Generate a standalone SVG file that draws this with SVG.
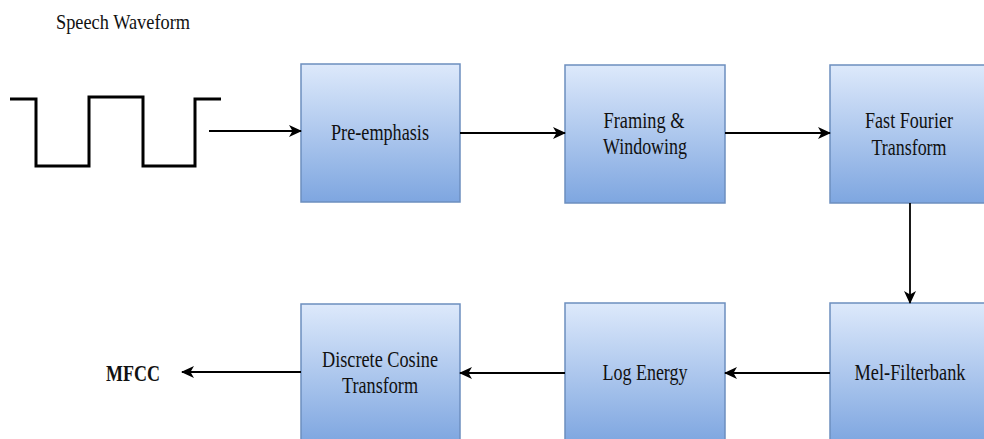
<svg xmlns="http://www.w3.org/2000/svg" width="984" height="439" viewBox="0 0 984 439">
  <defs>
    <linearGradient id="boxFill" x1="0" y1="0" x2="0" y2="1">
      <stop offset="0" stop-color="#dde9fb"/>
      <stop offset="1" stop-color="#7ea6e0"/>
    </linearGradient>
    <marker id="arrow" markerUnits="userSpaceOnUse" markerWidth="13" markerHeight="12" refX="12" refY="6" orient="auto">
      <path d="M0,0 L13,6 L0,12 L3.5,6 Z" fill="#000"/>
    </marker>
  </defs>
  <style>
    .box { fill: url(#boxFill); stroke: #6c8ebf; stroke-width: 1.5; }
    .label { font-family: "Liberation Serif", "Times New Roman", serif; font-size: 24px; fill: #111; text-anchor: middle; }
    .edge { stroke: #000; stroke-width: 1.8; fill: none; marker-end: url(#arrow); }
    .wave { stroke: #000; stroke-width: 3; fill: none; stroke-linejoin: miter; }
  </style>

  <!-- input signal -->
  <g id="speech-waveform">
    <text x="56" y="29" font-family="Liberation Serif, serif" font-size="21" fill="#111" textLength="134" lengthAdjust="spacingAndGlyphs">Speech Waveform</text>
    <path class="wave" d="M10,99 H36 V166 H89 V97 H143 V166 H195 V99 H221"/>
  </g>

  <g id="pre-emphasis">
    <rect class="box" x="301" y="64" width="159" height="138"/>
    <text class="label" x="380" y="140" textLength="98" lengthAdjust="spacingAndGlyphs">Pre-emphasis</text>
  </g>

  <g id="framing-windowing">
    <rect class="box" x="565" y="65" width="160" height="138"/>
    <text class="label" x="644" y="128" textLength="81" lengthAdjust="spacingAndGlyphs">Framing &amp;</text>
    <text class="label" x="645" y="154" textLength="84" lengthAdjust="spacingAndGlyphs">Windowing</text>
  </g>

  <g id="fft">
    <rect class="box" x="830" y="65" width="160" height="138"/>
    <text class="label" x="909" y="128" textLength="88" lengthAdjust="spacingAndGlyphs">Fast Fourier</text>
    <text class="label" x="909" y="155" textLength="75" lengthAdjust="spacingAndGlyphs">Transform</text>
  </g>

  <g id="mel-filterbank">
    <rect class="box" x="830" y="303" width="160" height="140"/>
    <text class="label" x="910" y="380" textLength="111" lengthAdjust="spacingAndGlyphs">Mel-Filterbank</text>
  </g>

  <g id="log-energy">
    <rect class="box" x="565" y="303" width="160" height="140"/>
    <text class="label" x="645" y="380" textLength="85" lengthAdjust="spacingAndGlyphs">Log Energy</text>
  </g>

  <g id="dct">
    <rect class="box" x="301" y="304" width="159" height="139"/>
    <text class="label" x="380" y="367" textLength="116" lengthAdjust="spacingAndGlyphs">Discrete Cosine</text>
    <text class="label" x="380" y="393" textLength="76" lengthAdjust="spacingAndGlyphs">Transform</text>
  </g>

  <g id="mfcc-output">
    <text x="106" y="381" font-family="Liberation Serif, serif" font-size="23" font-weight="bold" fill="#111" textLength="54" lengthAdjust="spacingAndGlyphs">MFCC</text>
  </g>

  <g id="connectors">
    <line class="edge" x1="209" y1="131" x2="301" y2="131"/>
    <line class="edge" x1="460" y1="133" x2="565" y2="133"/>
    <line class="edge" x1="725" y1="133" x2="830" y2="133"/>
    <line class="edge" x1="910" y1="203" x2="910" y2="303"/>
    <line class="edge" x1="830" y1="373" x2="725" y2="373"/>
    <line class="edge" x1="565" y1="373" x2="460" y2="373"/>
    <line class="edge" x1="301" y1="372" x2="182" y2="372"/>
  </g>
</svg>
